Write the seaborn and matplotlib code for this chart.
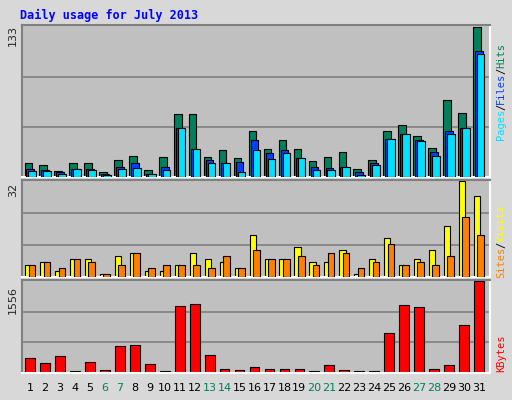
import numpy as np
import matplotlib
matplotlib.use("Agg")
import matplotlib.pyplot as plt
import seaborn as sns

days = list(range(1, 32))
weekend = {6, 7, 13, 14, 20, 21, 27, 28}
hits = [12, 11, 5, 12, 12, 4, 15, 19, 6, 18, 56, 56, 18, 24, 17, 41, 25, 33, 25, 14, 18, 22, 7, 15, 41, 46, 36, 26, 68, 57, 133]
files = [7, 6, 4, 7, 7, 3, 9, 12, 3, 9, 43, 25, 15, 12, 13, 33, 21, 24, 17, 9, 8, 9, 4, 12, 34, 38, 33, 22, 41, 43, 111]
pages = [5, 5, 3, 7, 6, 2, 7, 8, 3, 6, 43, 25, 12, 12, 4, 24, 16, 21, 17, 6, 6, 9, 2, 11, 34, 38, 32, 19, 38, 43, 109]
visits = [4, 5, 2, 6, 6, 1, 7, 8, 2, 2, 4, 8, 6, 5, 3, 14, 6, 6, 10, 5, 5, 9, 1, 6, 13, 4, 6, 9, 17, 32, 27]
sites = [4, 5, 3, 6, 5, 1, 4, 8, 3, 4, 4, 4, 3, 7, 3, 9, 6, 6, 7, 4, 8, 8, 3, 5, 11, 4, 5, 4, 7, 20, 14]
kbytes = [256, 171, 291, 34, 188, 51, 462, 479, 154, 34, 1129, 1163, 308, 68, 51, 103, 68, 68, 68, 34, 137, 51, 34, 34, 684, 1146, 1112, 68, 137, 804, 1556]

sns.set_style("white")
W, H = 512, 400
fig = plt.figure(figsize=(W / 100, H / 100), dpi=100, facecolor="#D8D8D8")
x = np.array(days)
edge = dict(edgecolor="black", linewidth=0.8)


def panel(top, bottom, ymax):
    ax = fig.add_axes([22 / W, 1 - bottom / H, 468 / W, (bottom - top) / H])
    ax.set_facecolor("#C0C0C0")
    ax.set_xlim(0.45, 31.75)
    ax.set_ylim(0, ymax * 1.01)
    for g in (ymax / 3, 2 * ymax / 3):
        ax.axhline(g, color="#808080", linewidth=1.2, zorder=0)
    ax.set_xticks([])
    ax.set_yticks([])
    for s in ax.spines.values():
        s.set_color("white")
        s.set_linewidth(1.5)
    ax.spines["left"].set_color("#808080")
    ax.spines["top"].set_color("#808080")
    return ax


# Hits / Files / Pages
ax1 = panel(25, 177, 133)
ax1.bar(x - 0.13, hits, width=0.5, color="#00805C", zorder=2, **edge)
ax1.bar(x, files, width=0.5, color="#0040FF", zorder=3, **edge)
ax1.bar(x + 0.13, pages, width=0.5, color="#00E0FF", zorder=4, **edge)

# Visits / Sites
ax2 = panel(180, 277, 32)
ax2.bar(x - 0.12, visits, width=0.42, color="#FFFF00", zorder=2, **edge)
ax2.bar(x + 0.12, sites, width=0.45, color="#FF8000", zorder=3, **edge)

# KBytes
ax3 = panel(280, 373, 1556)
ax3.bar(x, kbytes, width=0.65, color="#FF0000", zorder=2, **edge)

for d in days:
    fig.text((22 + (d - 0.45) / 31.3 * 468) / W, 1 - 388 / H, str(d),
             color="#00805C" if d in weekend else "black",
             ha="center", va="center", fontsize=8, family="DejaVu Sans")

fig.text(20 / W, 1 - 15 / H, "Daily usage for July 2013", color="#0000FF",
         fontsize=8.5, fontweight="bold", family="DejaVu Sans Mono", va="center")
for val, yc in (("133", 36), ("32", 190), ("1556", 300)):
    fig.text(13 / W, 1 - yc / H, val, rotation=90, fontsize=8, ha="center", va="center")


def side_label(parts, y_bottom):
    y = y_bottom
    for txt, col in parts:
        t = fig.text(501 / W, 1 - y / H, txt, rotation=90, color=col, fontsize=7.5,
                     family="DejaVu Sans Mono", ha="center", va="bottom")
        y -= len(txt) * 6.0


side_label([("Pages", "#00E0FF"), ("/", "black"), ("Files", "#0040FF"),
            ("/", "black"), ("Hits", "#00805C")], 140)
side_label([("Sites", "#FF8000"), ("/", "black"), ("Visits", "#FFFF00")], 278)
side_label([("KBytes", "#FF0000")], 372)

fig.savefig("out.png", dpi=100, facecolor=fig.get_facecolor())
